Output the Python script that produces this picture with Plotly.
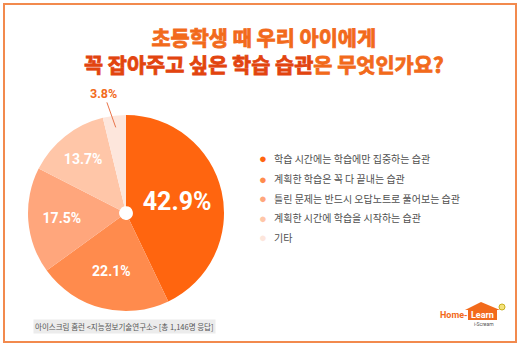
import math
import plotly.graph_objects as go

categories = [
    "학습 시간에는 학습에만 집중하는 습관",
    "계획한 학습은 꼭 다 끝내는 습관",
    "틀린 문제는 반드시 오답노트로 풀어보는 습관",
    "계획한 시간에 학습을 시작하는 습관",
    "기타",
]
values = [42.9, 22.1, 17.5, 13.7, 3.8]
colors = ["#FF650F", "#FF8B4D", "#FFA67C", "#FFC6A8", "#FDE6DC"]

title_line1 = "초등학생 때 우리 아이에게"
title_line2a = "꼭 잡아주고 싶은 학습 습관"
title_line2b = "은 무엇인가요?"
source_text = "아이스크림 홈런 <지능정보기술연구소> [총 1,146명 응답]"

W, H = 520, 350

# pie geometry (pixels)
CX, CY, R = 126, 213, 98

text_sizes = [25, 14, 14, 14, 12]
positions = ["inside", "inside", "inside", "inside", "none"]

fig = go.Figure()
fig.add_trace(go.Pie(
    values=values,
    labels=categories,
    sort=False,
    direction="clockwise",
    rotation=0,
    hole=0.07,
    marker=dict(colors=colors, line=dict(width=0)),
    texttemplate="<b>%{value:.1f}%</b>",
    textposition=positions,
    insidetextorientation="horizontal",
    insidetextfont=dict(color="white", size=text_sizes, family="Roboto"),
    showlegend=False,
    hoverinfo="label+percent",
    domain=dict(x=[(CX - R) / W, (CX + R) / W], y=[(H - CY - R) / H, (H - CY + R) / H]),
))

annotations = []
ORANGE = "#F26A1B"
DARK = "#E2440F"


def heavy(txt, col):
    return (f"<span style='color:{col};stroke:{col};stroke-width:0.8px'>"
            f"<b>{txt}</b></span>")


annotations.append(dict(
    text=heavy(title_line1, ORANGE) + "<br>" + heavy(title_line2a, DARK) + heavy(title_line2b, ORANGE),
    x=264 / W, y=1 - 51 / H, xref="paper", yref="paper",
    xanchor="center", yanchor="middle", showarrow=False,
    font=dict(family="Noto Sans CJK KR", size=20.8, color=ORANGE),
))

# small-slice label with leader line, positioned from the data
total = sum(values)
mid_frac = (total - values[-1] / 2) / total
theta = 2 * math.pi * mid_frac
px = CX + 0.88 * R * math.sin(theta)
py = CY - 0.88 * R * math.cos(theta)
annotations.append(dict(
    text=f"<b>{values[-1]:.1f}%</b>", x=px / W, y=1 - py / H, xref="paper", yref="paper",
    showarrow=True, arrowhead=0, arrowwidth=1, arrowcolor="#E9744A",
    ax=-12, ay=-34, standoff=0,
    font=dict(size=12.5, color=ORANGE, family="Roboto"),
))

# legend
row_y = [158, 178.5, 198, 217.5, 237]
for cat, col, yy in zip(categories, colors, row_y):
    annotations.append(dict(
        text="●", x=263 / W, y=1 - yy / H, xref="paper", yref="paper",
        xanchor="center", yanchor="middle", showarrow=False,
        font=dict(size=13, color=col),
    ))
    annotations.append(dict(
        text=cat, x=272 / W, y=1 - yy / H, xref="paper", yref="paper",
        xanchor="left", yanchor="middle", showarrow=False,
        font=dict(size=10, color="#505050", family="Noto Sans CJK KR"),
    ))

# source
annotations.append(dict(
    text=source_text, x=33 / W, y=1 - 326 / H, xref="paper", yref="paper",
    xanchor="left", yanchor="middle", showarrow=False,
    bgcolor="#ECECEC", borderpad=1,
    font=dict(size=7.5, color="#555555", family="Noto Sans CJK KR"),
))

# logo
annotations.append(dict(
    text="<b>Home-</b>", x=469 / W, y=1 - 315 / H, xref="paper", yref="paper",
    xanchor="right", yanchor="middle", showarrow=False, borderpad=0,
    font=dict(size=9, color=ORANGE, family="Roboto"),
))
annotations.append(dict(
    text="<b>Learn</b>", x=482 / W, y=1 - 315 / H, xref="paper", yref="paper",
    xanchor="center", yanchor="middle", showarrow=False,
    font=dict(size=9, color="white", family="Roboto"),
))
annotations.append(dict(
    text="i-Scream", x=484 / W, y=1 - 323.5 / H, xref="paper", yref="paper",
    xanchor="center", yanchor="middle", showarrow=False,
    font=dict(size=5, color="#555555", family="Roboto"),
))


def px2paper(x, y):
    return x / W, 1 - y / H


rx0, ry0 = px2paper(468, 320)
rx1, ry1 = px2paper(497, 309)
p1 = px2paper(465, 310)
p2 = px2paper(481, 302)
p3 = px2paper(500, 310)

shapes = [
    dict(type="rect", xref="paper", yref="paper",
         x0=4 / W, x1=516 / W, y0=1 - 342 / H, y1=1 - 4 / H,
         line=dict(color="#F28A4E", width=2), fillcolor="rgba(0,0,0,0)"),
    dict(type="rect", xref="paper", yref="paper", x0=rx0, x1=rx1, y0=ry0, y1=ry1,
         line=dict(width=0), fillcolor=ORANGE, layer="below"),
    dict(type="path", xref="paper", yref="paper",
         path=f"M {p1[0]},{p1[1]} L {p2[0]},{p2[1]} L {p3[0]},{p3[1]} Z",
         line=dict(width=0), fillcolor=ORANGE, layer="below"),
    dict(type="circle", xref="paper", yref="paper",
         x0=499 / W, x1=505 / W, y0=1 - 310 / H, y1=1 - 304 / H,
         line=dict(color="#C8B020", width=1), fillcolor="#F4E27A"),
]

fig.update_layout(
    width=W, height=H,
    margin=dict(l=0, r=0, t=0, b=0),
    paper_bgcolor="white", plot_bgcolor="white",
    annotations=annotations,
    shapes=shapes,
)

fig.write_html("out.html")
